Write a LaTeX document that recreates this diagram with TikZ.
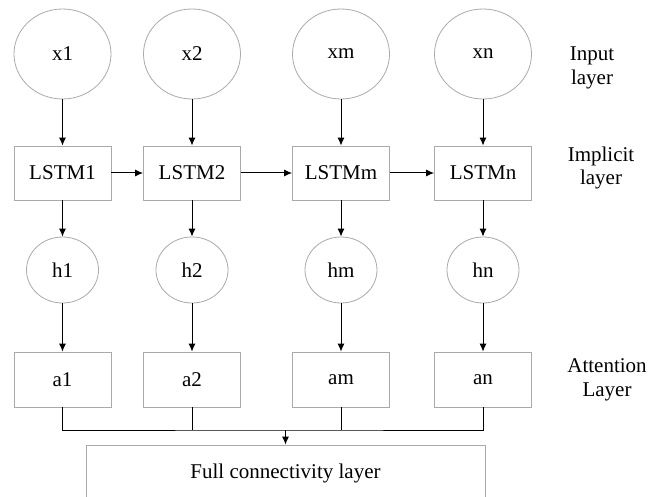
\documentclass[tikz,border=0pt]{standalone}
\usepackage{fontspec}
\setmainfont{Liberation Serif}
\usetikzlibrary{shapes.geometric,arrows.meta}
\definecolor{bordergray}{RGB}{170,170,170}
\begin{document}
\begin{tikzpicture}[x=1pt,y=-1pt,
  every node/.style={font=\fontsize{21}{23.5}\selectfont, inner sep=0pt},
  bigcirc/.style={ellipse, draw=bordergray, line width=0.8pt, minimum width=97pt, minimum height=90pt},
  smallcirc/.style={ellipse, draw=bordergray, line width=0.8pt, minimum width=72pt, minimum height=66pt},
  cellbox/.style={rectangle, draw=bordergray, line width=0.8pt, minimum width=97pt, minimum height=54pt},
  attbox/.style={rectangle, draw=bordergray, line width=0.8pt, minimum width=97pt, minimum height=55pt},
  arr/.style={draw=black, line width=1pt, -{Latex[length=8pt,width=7pt]}},
  conn/.style={draw=black, line width=1pt},
  lbl/.style={align=center}]
\useasboundingbox (0,0) rectangle (658,497);
\clip (0,0) rectangle (658,497);
\fill[white] (0,0) rectangle (658,497);

% input layer
\node[bigcirc] (x1) at (62.5,54) {x1};
\node[bigcirc] (x2) at (192,54) {x2};
\node[bigcirc] (xm) at (341,54) {xm};
\node[bigcirc] (xn) at (483,54) {xn};

% LSTM layer
\node[cellbox] (l1) at (62.5,173) {LSTM1};
\node[cellbox] (l2) at (192,173) {LSTM2};
\node[cellbox] (lm) at (341,173) {LSTMm};
\node[cellbox] (ln) at (483,173) {LSTMn};

% hidden states
\node[smallcirc] (h1) at (62.5,270) {h1};
\node[smallcirc] (h2) at (192,270) {h2};
\node[smallcirc] (hm) at (341,270) {hm};
\node[smallcirc] (hn) at (483,270) {hn};

% attention
\node[attbox] (a1) at (62.5,379.5) {a1};
\node[attbox] (a2) at (192,379.5) {a2};
\node[attbox] (am) at (341,379.5) {am};
\node[attbox] (an) at (483,379.5) {an};

% full connectivity
\node[rectangle, draw=bordergray, line width=0.8pt, minimum width=399pt, minimum height=56pt] (full) at (285.5,473) {Full connectivity layer};

% right labels
\node[lbl] (linput) at (592,68) {Input\\layer};
\node[lbl] (limpl) at (601,168) {Implicit\\layer};
\node[lbl] (latt) at (607,380) {Attention\\Layer};

% arrows
\foreach \c in {1,2,m,n}{
  \draw[arr] (x\c) -- (l\c);
  \draw[arr] (l\c) -- (h\c);
  \draw[arr] (h\c) -- (a\c);
}
\draw[arr] (l1) -- (l2);
\draw[arr] (l2) -- (lm);
\draw[arr] (lm) -- (ln);

% bus
\coordinate (bus) at (285.5,430);
\draw[conn] (a1.south) |- (bus) -| (an.south);
\draw[conn] (a2.south) -- (a2.south |- bus);
\draw[conn] (am.south) -- (am.south |- bus);
\draw[arr] (bus) -- (full.north);
\end{tikzpicture}
\end{document}
